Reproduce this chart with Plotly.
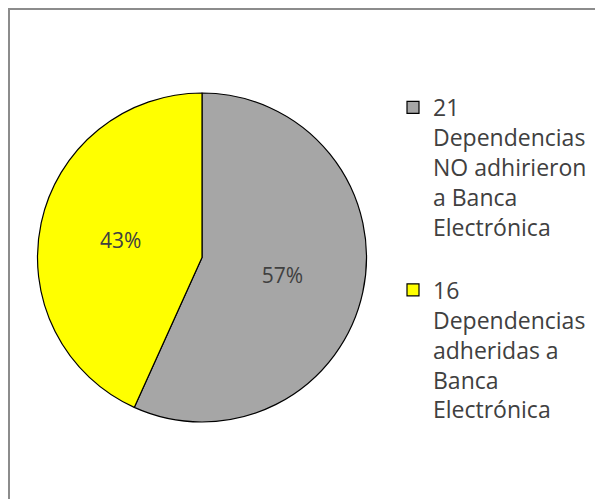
import plotly.graph_objects as go

labels = ["21<br>Dependencias<br>NO adhirieron<br>a Banca<br>Electrónica<br> ",
          "16<br>Dependencias<br>adheridas a<br>Banca<br>Electrónica"]
values = [21, 16]
colors = ["#A6A6A6", "#FFFF00"]

fig = go.Figure(go.Pie(
    labels=labels, values=values, sort=False, direction="clockwise", rotation=0,
    marker=dict(colors=colors, line=dict(color="#000000", width=1.2)),
    texttemplate="%{percent:.0%}", textposition="inside", insidetextorientation="horizontal",
    textfont=dict(family="Open Sans", size=21, color="#404040"),
    domain=dict(x=[29/603, 359/603], y=[1-414/499, 1-85/499]),
    hoverinfo="label+value+percent",
))

fig.update_layout(
    width=603, height=499,
    margin=dict(l=0, r=0, t=0, b=0),
    paper_bgcolor="white",
    font=dict(family="Open Sans", color="#404040"),
    showlegend=True,
    legend=dict(x=385/603, y=1-78/499, xanchor="left", yanchor="top",
                valign="top", font=dict(family="Open Sans", size=23, color="#404040"),
                bgcolor="rgba(0,0,0,0)", itemwidth=30),
    shapes=[dict(type="rect", xref="paper", yref="paper",
                 x0=1/603, x1=1.05, y0=-0.05, y1=1-1/499,
                 line=dict(color="#8C8C8C", width=2), fillcolor="rgba(0,0,0,0)")],
)

fig.write_html("out.html")
